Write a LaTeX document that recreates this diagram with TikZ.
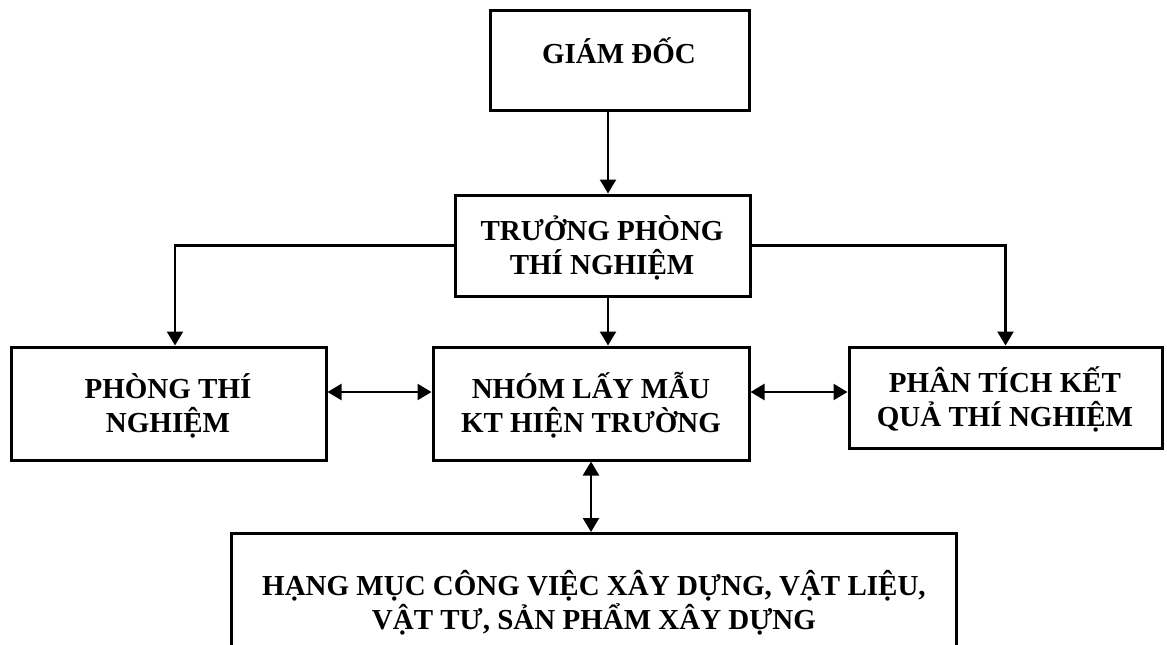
\documentclass[tikz,border=0pt]{standalone}
\usepackage{fontspec}
\setmainfont{Liberation Serif}
\usetikzlibrary{arrows.meta}

\tikzset{
  unitbox/.style={draw, line width=3pt, inner sep=0pt, fill=none},
  label text/.style={align=center, anchor=base, inner sep=0pt,
    font=\bfseries\fontsize{29}{34}\selectfont},
  link/.style={line width=2.4pt, -{Triangle[length=14pt,width=16pt]}},
  twoway/.style={line width=2.4pt,
    {Triangle[length=14pt,width=16pt]}-{Triangle[length=14pt,width=16pt]}},
}

\begin{document}
\begin{tikzpicture}[x=1pt, y=-1pt]
  \useasboundingbox (0,0) rectangle (1167,645);
  \clip (0,0) rectangle (1167,645);

  % boxes
  \node[unitbox, minimum width=259pt, minimum height=100pt] (gd)   at (619.5,60) {};
  \node[unitbox, minimum width=295pt, minimum height=101pt] (tp)   at (602.5,245.5) {};
  \node[unitbox, minimum width=315pt, minimum height=113pt] (ptn)  at (168.5,403.5) {};
  \node[unitbox, minimum width=316pt, minimum height=113pt] (nhom) at (591,403.5) {};
  \node[unitbox, minimum width=313pt, minimum height=101pt] (pt)   at (1005.5,397.5) {};
  \node[unitbox, minimum width=725pt, minimum height=140pt, anchor=north] (hm) at (593.5,532) {};

  % box texts (placed on the baseline of their last line)
  \node[label text] (gdt)   at (619,63)   {GIÁM ĐỐC};
  \node[label text] (tpt)   at (602,274)  {TRƯỞNG PHÒNG\\THÍ NGHIỆM};
  \node[label text] (ptnt)  at (168,432)  {PHÒNG THÍ\\NGHIỆM};
  \node[label text] (nhomt) at (591,432)  {NHÓM LẤY MẪU\\KT HIỆN TRƯỜNG};
  \node[label text] (ptt)   at (1005,426) {PHÂN TÍCH KẾT\\QUẢ THÍ NGHIỆM};
  \node[label text] (hmt)   at (594,629)  {HẠNG MỤC CÔNG VIỆC XÂY DỰNG, VẬT LIỆU,\\VẬT TƯ, SẢN PHẨM XÂY DỰNG};

  % guide positions for the connectors
  \coordinate (axis) at (608,0);
  \coordinate (lx)   at (175,0);
  \coordinate (row)  at (0,392);

  % connectors
  \draw[link] (gd.south -| axis) -- (tp.north -| axis);
  \draw[link] (tp.west) -| (lx |- ptn.north);
  \draw[link] (tp.east) -| (pt.north);
  \draw[link] (tp.south -| axis) -- (nhom.north -| axis);
  \draw[twoway] (ptn.east |- row) -- (nhom.west |- row);
  \draw[twoway] (nhom.east |- row) -- (pt.west |- row);
  \draw[twoway] (nhom.south) -- (nhom.south |- hm.north);
\end{tikzpicture}
\end{document}
